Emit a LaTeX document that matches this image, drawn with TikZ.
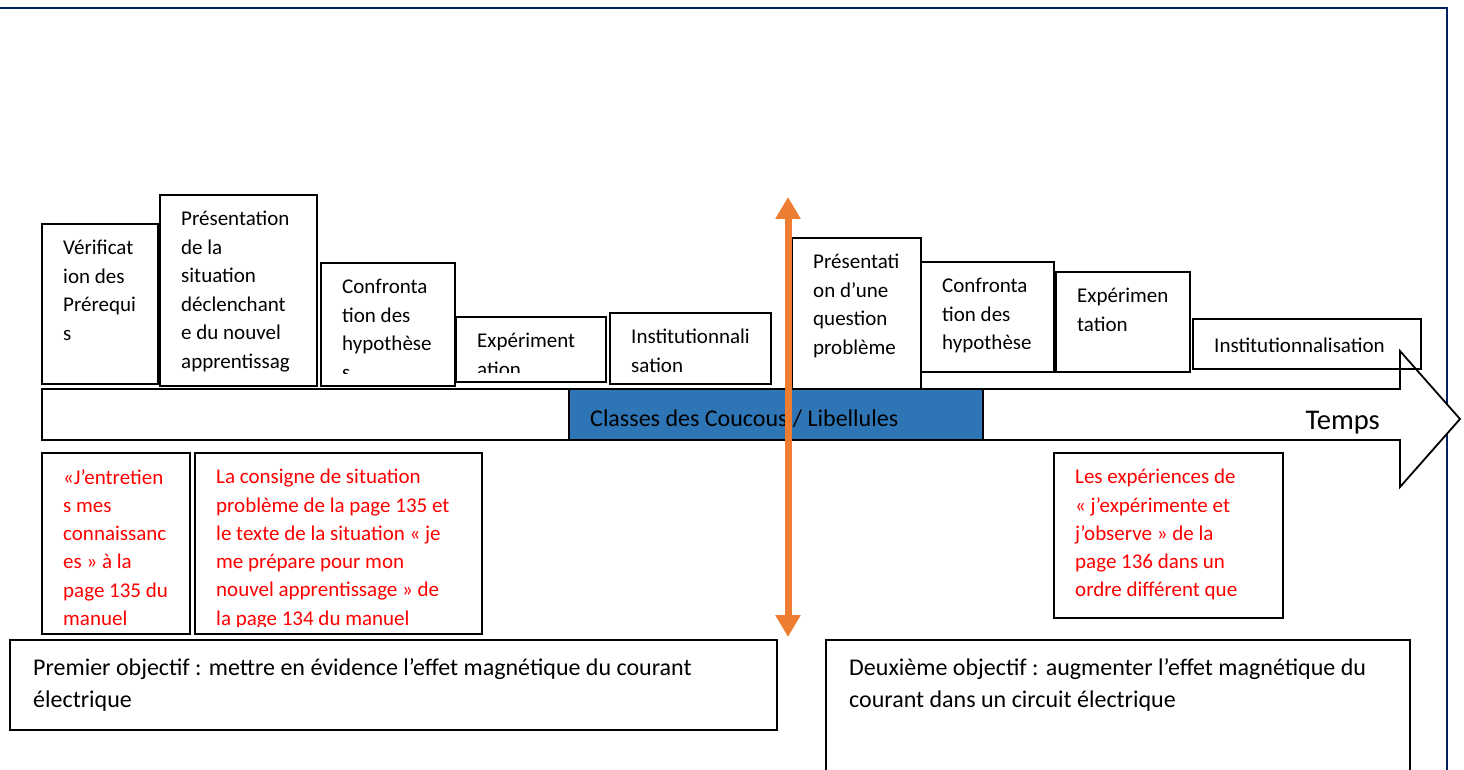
\documentclass[tikz,border=0pt]{standalone}
\usepackage{fontspec}
\setmainfont{Carlito}
\usetikzlibrary{arrows.meta}
\definecolor{navy}{HTML}{002060}
\definecolor{wblue}{HTML}{2E75B6}
\definecolor{worange}{HTML}{ED7D31}
\definecolor{wred}{HTML}{FF0000}
\tikzset{
  boxst/.style={draw=black, line width=1.8pt, fill=white, inner sep=0pt, outer sep=0pt},
  txt/.style={inner sep=0pt, align=left, font=\fontsize{21}{28.5}\selectfont, execute at begin node=\rule{0pt}{17pt}},
  redtxt/.style={txt, text=wred, font=\fontsize{21}{28.3}\selectfont},
  objtxt/.style={txt, font=\fontsize{24}{32}\selectfont, xshift=2pt, yshift=-2pt},
  timebar/.style={line width=1.8pt},
  frame/.style={draw=navy, line width=2.5pt},
  splitarrow/.style={draw=worange, line width=7pt, {Triangle[width=24pt,length=22pt]}-{Triangle[width=24pt,length=22pt]}}
}
% #1 name, #2 x1, #3 y1, #4 x2, #5 y2, #6 clip bottom, #7 text style, #8 text
\newcommand\stagebox[8]{%
  \node[boxst, anchor=north west, minimum width={(#4-#2)*1pt}, minimum height={(#5-#3)*1pt}] (#1) at (#2,#3) {};
  \begin{scope}
    \clip (#2,#3) rectangle (#4,#6);
    \node[#7, anchor=north west] (#1t) at (#2+21,#3+16) {#8};
  \end{scope}
}
\begin{document}
\begin{tikzpicture}[x=1pt,y=-1pt]
\useasboundingbox (0,0) rectangle (1464,770);
\fill[white] (0,0) rectangle (1464,770);
% page frame
\draw[frame] (0,8) -- (1447,8) -- (1447,772);
% time arrow (fill)
\fill[white] (42,389) -- (1400,389) -- (1400,351) -- (1460,419) -- (1400,487) -- (1400,440) -- (42,440) -- cycle;
% stages, first part
\stagebox{s1}{42}{224}{158}{384}{372}{txt}{Vérificat\\ion des\\Prérequi\\s}
\stagebox{s2}{160}{195}{317}{386}{374}{txt}{Présentation\\de la\\situation\\déclenchant\\e du nouvel\\apprentissag}
\stagebox{s3}{321}{263}{455}{386}{373}{txt}{Confronta\\tion des\\hypothèse\\s}
\stagebox{s4}{456}{317}{606}{382}{372}{txt}{Expériment\\ation}
\stagebox{s5}{610}{313}{771}{384}{372}{txt}{Institutionnali\\sation}
% stages, second part
\stagebox{s6}{792}{238}{921}{389}{377}{txt}{Présentati\\on d’une\\question\\problème}
\stagebox{s7}{921}{262}{1054}{372}{360}{txt}{Confronta\\tion des\\hypothèse}
\stagebox{s8}{1056}{272}{1190}{372}{360}{txt}{Expérimen\\tation}
\stagebox{s9}{1193}{319}{1421}{369}{369}{txt}{Institutionnalisation}
% time arrow outline
\draw[timebar] (42,389) -- (1400,389) -- (1400,351) -- (1460,419) -- (1400,487) -- (1400,440) -- (42,440) -- cycle;
\node[draw=black, line width=1.8pt, fill=wblue, anchor=north west, minimum width=414pt, minimum height=51pt, inner sep=0pt, outer sep=0pt] (cls) at (569,389) {};
\node[anchor=base west, inner sep=0pt, font=\fontsize{24}{28}\selectfont] (clst) at (590,426) {Classes des Coucous / Libellules};
\node[anchor=base east, inner sep=0pt, font=\fontsize{28.5}{32}\selectfont] (temps) at (1380,429) {Temps};
% resources
\stagebox{r1}{42}{453}{190}{634}{626}{redtxt}{«J’entretien\\s mes\\connaissanc\\es » à la\\page 135 du\\manuel}
\stagebox{r2}{195}{453}{482}{634}{626}{redtxt}{La consigne de situation\\problème de la page 135 et\\le texte de la situation « je\\me prépare pour mon\\nouvel apprentissage » de\\la page 134 du manuel}
\stagebox{r3}{1054}{453}{1283}{618}{606}{redtxt}{Les expériences de\\« j’expérimente et\\j’observe » de la\\page 136 dans un\\ordre différent que}
% objectives
\stagebox{o1}{10}{640}{777}{730}{730}{objtxt}{Premier objectif : mettre en évidence l’effet magnétique du courant\\électrique}
\stagebox{o2}{826}{640}{1410}{790}{790}{objtxt}{Deuxième objectif : augmenter l’effet magnétique du\\courant dans un circuit électrique}
% separator double arrow
\coordinate (otop) at (788,197);
\coordinate (obot) at (788,637);
\draw[splitarrow] (obot) -- (otop);
\end{tikzpicture}
\end{document}
